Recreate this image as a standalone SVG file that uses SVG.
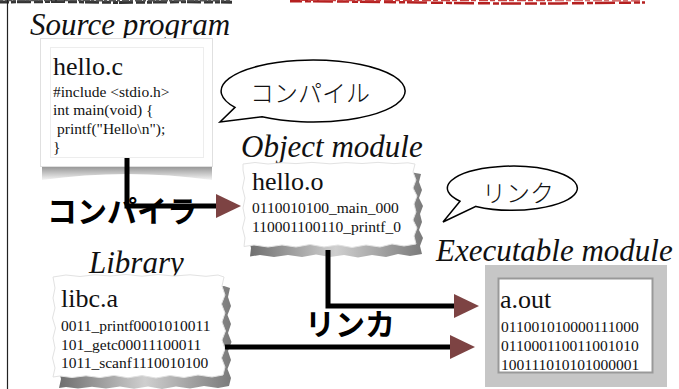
<svg xmlns="http://www.w3.org/2000/svg" width="679" height="389" viewBox="0 0 679 389">
<style>
.h{font-family:"Liberation Serif","Times New Roman",serif;font-style:italic;font-size:31px;fill:#111}
.t{font-family:"Liberation Serif","Times New Roman",serif;font-size:26px;fill:#111}
.c{font-family:"Liberation Serif","Times New Roman",serif;font-size:15.5px;fill:#111}
.jb{font-family:"Noto Sans CJK JP","Noto Sans",sans-serif;font-weight:bold;font-size:30px;fill:#000}
.jt{font-family:"Noto Sans CJK JP","Noto Sans",sans-serif;font-weight:300;font-size:24px;fill:#111}
.bub{fill:#fff;stroke:#000;stroke-width:1.5;stroke-linejoin:miter}
.card{fill:#fff;stroke:#e2e2e2;stroke-width:1}
.conn{fill:none;stroke:#000;stroke-width:5;marker-end:url(#ah)}
</style>
<defs>
<marker id="ah" markerUnits="userSpaceOnUse" markerWidth="26" markerHeight="26" refX="1" refY="12" orient="auto">
<path d="M0,0 L25,12 L0,24 Z" fill="#7d4343"/>
</marker>
<linearGradient id="sh" x1="0" y1="0" x2="1" y2="0">
<stop offset="0" stop-color="#6e6e6e"/>
<stop offset="0.5" stop-color="#cfcfcf"/>
<stop offset="1" stop-color="#7a7a7a"/>
</linearGradient>
<linearGradient id="shv" x1="0" y1="0" x2="0" y2="1">
<stop offset="0" stop-color="#8a8a8a"/>
<stop offset="1" stop-color="#f4f4f4"/>
</linearGradient>
<path id="tornO" d="M243,164 L255,162.5 L268,164 L282,162.8 L296,163.6 L312,162.4 L330,163.8 L346,162.6 L362,163.5 L378,162.4 L394,163.6 L408,162.8 L415,164 L413,172 L416,180 L413,188 L417,196 L414,204 L416,212 L413,220 L417,228 L414,236 L416,244 L404,246 L392,244 L380,247 L366,245 L352,247.5 L338,245 L324,247 L310,244.5 L296,247 L282,245 L268,247 L254,245 L244,246.5 L245,238 L242.5,228 L245,218 L243,208 L245,198 L242.5,188 L244.5,178 L243,170 Z"/>
<path id="tornA" d="M53,277 L66,275 L80,276.5 L95,274.8 L110,276 L126,274.5 L142,276.2 L158,274.6 L174,276 L190,274.8 L206,276.3 L218,275 L224,277 L222,286 L225,295 L221.5,304 L225,313 L222,322 L225.5,331 L222,340 L225,349 L221.5,358 L225,367 L223,375 L212,377 L198,375 L184,377.5 L170,375.5 L156,378 L142,375.6 L128,377.8 L114,375.4 L100,377.6 L86,375.8 L72,377.5 L60,376 L53,377 L55,368 L52.5,358 L55,348 L53,338 L55.5,328 L52.5,318 L55,308 L53,298 L55,288 Z"/>
</defs>
<rect width="679" height="389" fill="#fff"/>
<g id="decor">
<path d="M0,2 L60,1.5 L120,2.5 L180,1.8 L232,2.2" stroke="#333" stroke-width="3" fill="none" stroke-dasharray="9 2 5 1 14 3"/>
<path d="M0,0.5 L230,0.8" stroke="#555" stroke-width="1.5" fill="none" stroke-dasharray="3 2 7 1"/>
<path d="M290,1.2 L350,1.6 L420,2.5 L500,3.5 L560,3.4 L645,2.5" stroke="#b52020" stroke-width="2.5" fill="none" stroke-dasharray="12 3 6 2 20 4"/>
<path d="M300,0.5 L640,0.8" stroke="#c84040" stroke-width="1.2" fill="none" stroke-dasharray="5 3 9 2"/>
<line x1="7.5" y1="0" x2="7.5" y2="389" stroke="#222" stroke-width="1.2"/>
</g>
<text class="h" x="30" y="35">Source program</text>
<text class="h" x="241" y="157">Object module</text>
<text class="h" x="89" y="273">Library</text>
<text class="h" x="436" y="261">Executable module</text>
<g id="hello_c">
<path d="M42,165 L212,165 L212,180 Q127,168 42,180 Z" fill="url(#shv)"/>
<rect x="40.5" y="38.5" width="172" height="128" fill="#fff" stroke="#e0e0e0"/>
<rect x="50.5" y="47.5" width="153" height="110" fill="none" stroke="#ededed"/>
<text class="t" x="53" y="75">hello.c</text>
<text class="c" x="53" y="97">#include &lt;stdio.h&gt;</text>
<text class="c" x="53" y="115">int main(void) {</text>
<text class="c" x="57" y="134">printf("Hello\n");</text>
<text class="c" x="53" y="152">}</text>
</g>
<g id="hello_o">
<use href="#tornO" transform="translate(6,10)" fill="url(#sh)"/>
<use href="#tornO" class="card"/>
<text class="t" x="252" y="190">hello.o</text>
<text class="c" x="252" y="213">0110010100_main_000</text>
<text class="c" x="252" y="232">110001100110_printf_0</text>
</g>
<g id="libc_a">
<use href="#tornA" transform="translate(6,11)" fill="url(#sh)"/>
<use href="#tornA" class="card"/>
<text class="t" x="61" y="307">libc.a</text>
<text class="c" x="61" y="331">0011_printf0001010011</text>
<text class="c" x="61" y="350">101_getc00011100011</text>
<text class="c" x="61" y="368">1011_scanf1110010100</text>
</g>
<g id="a_out">
<rect x="485" y="265" width="182" height="122" fill="#c6c6c6"/>
<rect x="498.5" y="278.5" width="154" height="94" fill="#fff" stroke="#999" stroke-width="2"/>
<text class="t" x="500" y="308">a.out</text>
<text class="c" x="501" y="332">011001010000111000</text>
<text class="c" x="501" y="351">011000110011001010</text>
<text class="c" x="501" y="370">100111010101000001</text>
</g>
<g id="bubble_compile">
<path class="bub" d="M235,107.4 A92,31 0 1 1 262,116.8 L220,122 Z"/>
<text class="jt" x="250" y="102">コンパイル</text>
</g>
<g id="bubble_link">
<path class="bub" d="M460,201.2 A65,22 0 1 1 476,206.4 L443,222 Z"/>
<text class="jt" x="482" y="202">リンク</text>
</g>
<text class="jb" x="47" y="222">コンパイラ</text>
<text class="jb" x="305" y="335">リンカ</text>
<g id="connectors">
<path class="conn" d="M127,158 V206 H217"/>
<path class="conn" d="M328,250 V306 H455"/>
<path class="conn" d="M225,347 H451"/>
</g>
</svg>
